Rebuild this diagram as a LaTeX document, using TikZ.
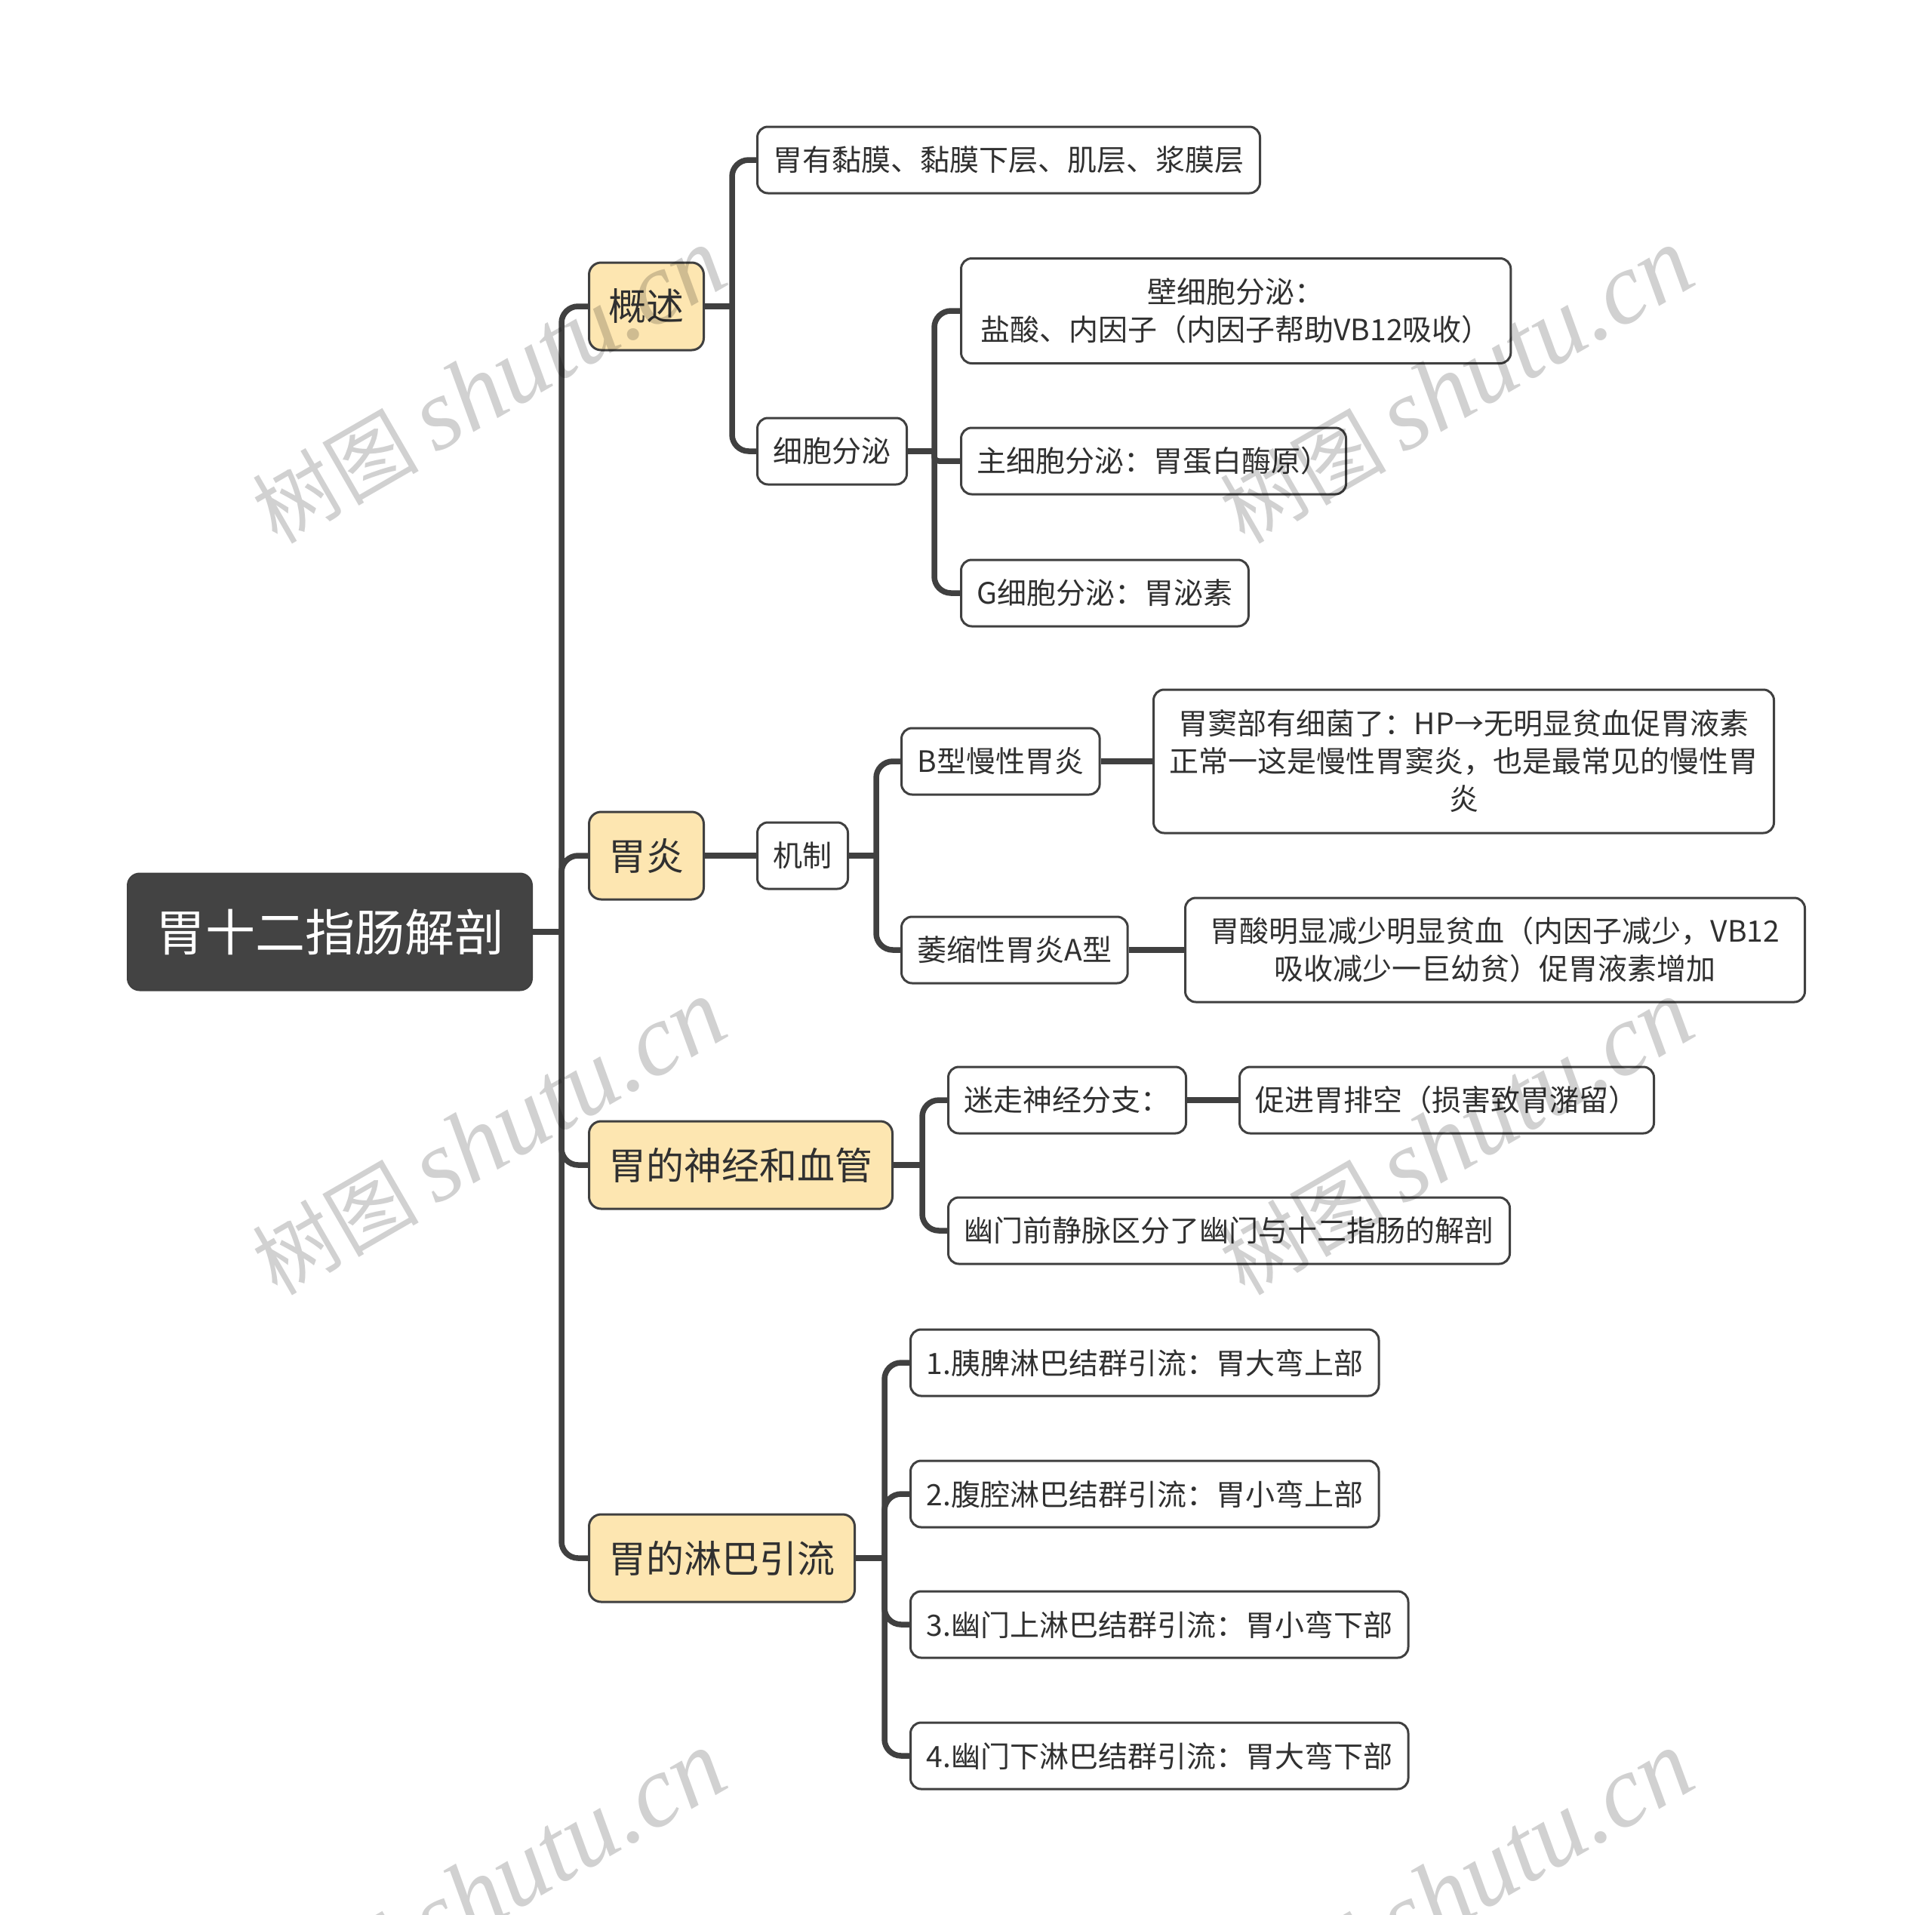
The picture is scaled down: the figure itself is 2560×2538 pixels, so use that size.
\documentclass[tikz,border=0pt]{standalone}
\usepackage{fontspec}
\setmainfont{Noto Sans CJK SC}
\newfontfamily\wmfont{Liberation Serif}
\usetikzlibrary{positioning}
\definecolor{linegray}{HTML}{404040}
\definecolor{rootgray}{HTML}{434343}
\definecolor{topicfill}{HTML}{FDE6B1}
\definecolor{txtgray}{HTML}{303030}

\begin{document}
\begin{tikzpicture}[x=1pt,y=-1pt]
\tikzstyle{root}=[draw=linegray,fill=rootgray,text=white,rounded corners=16pt,line width=2pt,minimum height=155pt,inner xsep=37pt,font=\fontsize{66}{80}\selectfont]
\tikzstyle{topic}=[draw=linegray,fill=topicfill,text=txtgray,rounded corners=16pt,line width=3pt,minimum height=116pt,inner xsep=26pt,font=\fontsize{50}{60}\selectfont]
\tikzstyle{leaf}=[draw=linegray,fill=white,text=txtgray,rounded corners=14pt,line width=3pt,minimum height=88pt,inner xsep=21pt,align=center,font=\fontsize{39}{50}\selectfont]
\tikzstyle{conn}=[draw=linegray,line width=7.5pt,rounded corners=22pt]
\tikzstyle{wm}=[text=black,opacity=0.18,rotate=30,inner sep=0pt]
\useasboundingbox (0,0) rectangle (2560,2538);

\node[root,anchor=west] (root) at (168,1235) {胃十二指肠解剖};
\node[topic,anchor=west] (gs) at (779,406) {概述};
\node[topic,anchor=west] (wy) at (779,1134) {胃炎};
\node[topic,anchor=west] (sj) at (779,1544) {胃的神经和血管};
\node[topic,anchor=west] (lb) at (779,2065) {胃的淋巴引流};

\node[leaf,anchor=west] (gs1) at (1002,212) {胃有黏膜、黏膜下层、肌层、浆膜层};
\node[leaf,anchor=west] (gs2) at (1002,598) {细胞分泌};
\node[leaf,anchor=west,minimum height=139pt,inner xsep=26pt] (fm1) at (1272,412) {壁细胞分泌：\\盐酸、内因子（内因子帮助VB12吸收）};
\node[leaf,anchor=west] (fm2) at (1272,611) {主细胞分泌：胃蛋白酶原）};
\node[leaf,anchor=west] (fm3) at (1272,786) {G细胞分泌：胃泌素};

\node[leaf,anchor=west] (jz) at (1002,1134) {机制};
\node[leaf,anchor=west] (bx) at (1193,1009) {B型慢性胃炎};
\node[leaf,anchor=west,minimum height=190pt] (bxs) at (1527,1009) {胃窦部有细菌了：HP→无明显贫血促胃液素\\正常一这是慢性胃窦炎，也是最常见的慢性胃\\炎};
\node[leaf,anchor=west] (ax) at (1193,1259) {萎缩性胃炎A型};
\node[leaf,anchor=west,minimum height=138pt,minimum width=821pt] (axs) at (1569,1259) {胃酸明显减少明显贫血（内因子减少，VB12\\吸收减少一巨幼贫）促胃液素增加};

\node[leaf,anchor=west] (mz) at (1255,1458) {迷走神经分支：};
\node[leaf,anchor=west] (mzs) at (1641,1458) {促进胃排空（损害致胃潴留）};
\node[leaf,anchor=west] (ym) at (1255,1631) {幽门前静脉区分了幽门与十二指肠的解剖};

\node[leaf,anchor=west] (lb1) at (1205,1806) {1.胰脾淋巴结群引流：胃大弯上部};
\node[leaf,anchor=west] (lb2) at (1205,1980) {2.腹腔淋巴结群引流：胃小弯上部};
\node[leaf,anchor=west] (lb3) at (1205,2153) {3.幽门上淋巴结群引流：胃小弯下部};
\node[leaf,anchor=west] (lb4) at (1205,2327) {4.幽门下淋巴结群引流：胃大弯下部};

\coordinate[right=38pt of root.east] (b0);
\coordinate[right=36pt of gs.east] (b1);
\coordinate[right=35pt of gs2.east] (b11);
\coordinate[right=36pt of jz.east] (b2);
\coordinate[right=38pt of sj.east] (b3);
\coordinate[right=38pt of lb.east] (b4);

\draw[conn] (root.east) -- (b0);
\draw[conn] (b0) |- (gs.west);
\draw[conn] (b0) |- (wy.west);
\draw[conn] (b0) |- (sj.west);
\draw[conn] (b0) |- (lb.west);

\draw[conn] (gs.east) -- (b1);
\draw[conn] (b1) |- (gs1.west);
\draw[conn] (b1) |- (gs2.west);
\draw[conn] (gs2.east) -- (b11);
\draw[conn] (b11) |- (fm1.west);
\draw[conn,rounded corners=6pt] (b11) |- (fm2.west);
\draw[conn] (b11) |- (fm3.west);

\draw[conn] (wy.east) -- (jz.west);
\draw[conn] (jz.east) -- (b2);
\draw[conn] (b2) |- (bx.west);
\draw[conn] (b2) |- (ax.west);
\draw[conn] (bx.east) -- (bxs.west);
\draw[conn] (ax.east) -- (axs.west);

\draw[conn] (sj.east) -- (b3);
\draw[conn] (b3) |- (mz.west);
\draw[conn] (b3) |- (ym.west);
\draw[conn] (mz.east) -- (mzs.west);

\draw[conn] (lb.east) -- (b4);
\draw[conn] (b4) |- (lb1.west);
\draw[conn] (b4) |- (lb2.west);
\draw[conn] (b4) |- (lb3.west);
\draw[conn] (b4) |- (lb4.west);

\foreach \wx/\wy [count=\i] in {648/512,1930/512,648/1508,1930/1508,648/2504,1930/2504}
  \node[wm] (wm\i) at (\wx,\wy) {{\fontsize{110}{120}\selectfont 树图}\hspace{22pt}{\fontsize{135}{140}\selectfont\wmfont\itshape shutu.cn}};
\end{tikzpicture}
\end{document}
